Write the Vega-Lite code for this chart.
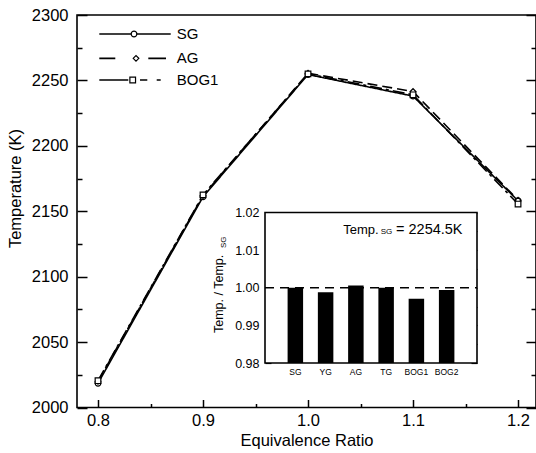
{
  "$schema": "https://vega.github.io/schema/vega-lite/v6.json",
  "width": 459,
  "height": 392.5,
  "autosize": {"type": "none"},
  "padding": {"left": 77, "top": 15, "right": 0, "bottom": 45.5},
  "background": "white",
  "config": {
    "view": {"stroke": "black", "strokeWidth": 1.6},
    "font": "Liberation Sans",
    "axis": {"labelFont": "Liberation Sans", "titleFont": "Liberation Sans", "labelColor": "black", "titleColor": "black", "tickColor": "black", "domainColor": "black", "grid": false, "titleFontWeight": "normal", "zindex": 1},
    "text": {"font": "Liberation Sans", "color": "black"}
  },
  "layer": [
    {
      "data": {"values": [
        {"phi": 0.8, "T": 2018.5, "fuel": "SG"},
        {"phi": 0.9, "T": 2161, "fuel": "SG"},
        {"phi": 1.0, "T": 2254.5, "fuel": "SG"},
        {"phi": 1.1, "T": 2238, "fuel": "SG"},
        {"phi": 1.2, "T": 2158, "fuel": "SG"},
        {"phi": 0.8, "T": 2020, "fuel": "AG"},
        {"phi": 0.9, "T": 2162, "fuel": "AG"},
        {"phi": 1.0, "T": 2255.5, "fuel": "AG"},
        {"phi": 1.1, "T": 2241.5, "fuel": "AG"},
        {"phi": 1.2, "T": 2158.5, "fuel": "AG"},
        {"phi": 0.8, "T": 2020.5, "fuel": "BOG1"},
        {"phi": 0.9, "T": 2162.5, "fuel": "BOG1"},
        {"phi": 1.0, "T": 2255, "fuel": "BOG1"},
        {"phi": 1.1, "T": 2239, "fuel": "BOG1"},
        {"phi": 1.2, "T": 2155.5, "fuel": "BOG1"}
      ]},
      "layer": [
        {
          "mark": {"type": "line", "color": "black", "strokeWidth": 1.6},
          "encoding": {
            "x": {"field": "phi", "type": "quantitative", "scale": {"domain": [0.78, 1.2171], "nice": false, "zero": false},
              "axis": {
                "orient": "bottom",
                "values": [0.8, 0.9, 1.0, 1.1, 1.2],
                "format": ".1f",
                "tickSize": -8,
                "tickWidth": 1.5,
                "domain": false,
                "labelFontSize": 16.5,
                "labelPadding": 13,
                "labelFlush": false,
                "labelOverlap": false,
                "title": "Equivalence Ratio",
                "titleFontSize": 16.5,
                "titlePadding": 3
              }},
            "y": {"field": "T", "type": "quantitative", "scale": {"domain": [2000, 2300], "nice": false, "zero": false},
              "axis": {
                "orient": "left",
                "values": [2000, 2050, 2100, 2150, 2200, 2250, 2300],
                "format": "d",
                "tickSize": -10,
                "tickWidth": 1.5,
                "domain": false,
                "labelFontSize": 16.5,
                "labelPadding": 19,
                "labelOverlap": false,
                "title": "Temperature (K)",
                "titleFontSize": 16.5,
                "titleX": -61.5,
                "titleY": 173,
                "titleBaseline": "middle"
              }},
            "strokeDash": {"field": "fuel", "type": "nominal", "scale": {"domain": ["SG", "AG", "BOG1"], "range": [[1, 0], [10, 5], [12, 4, 3, 4]]}, "legend": null}
          }
        },
        {
          "mark": {"type": "point", "fill": "white", "stroke": "black", "strokeWidth": 1.2, "opacity": 1, "size": 32},
          "encoding": {
            "x": {"field": "phi", "type": "quantitative",
              "axis": {"orient": "bottom", "values": [0.85, 0.95, 1.05, 1.15], "labels": false, "tickSize": -4, "tickWidth": 1.5, "domain": false, "title": null}},
            "y": {"field": "T", "type": "quantitative",
              "axis": {"orient": "right", "values": [2000, 2050, 2100, 2150, 2200, 2250, 2300], "labels": false, "tickSize": -10, "tickWidth": 1.5, "domain": false, "title": null}},
            "shape": {"field": "fuel", "type": "nominal", "scale": {"domain": ["SG", "AG", "BOG1"], "range": ["circle", "diamond", "square"]}, "legend": null}
          }
        },
        {
          "data": {"values": [{}]},
          "mark": {"type": "rule", "color": "black", "strokeWidth": 1.5},
          "encoding": {
            "x": {"datum": 0.80124, "axis": null},
            "x2": {"datum": 0.86924},
            "y": {"datum": 2285.5,
              "axis": {"orient": "left", "values": [2025, 2075, 2125, 2175, 2225, 2275], "labels": false, "tickSize": -5, "tickWidth": 1.5, "domain": false, "title": null}}
          }
        },
        {
          "data": {"values": [{}]},
          "mark": {"type": "rule", "color": "black", "strokeWidth": 1.8, "strokeDash": [16, 33, 18, 10]},
          "encoding": {
            "x": {"datum": 0.80124, "axis": null},
            "x2": {"datum": 0.86476},
            "y": {"datum": 2266.9,
              "axis": {"orient": "right", "values": [2025, 2075, 2125, 2175, 2225, 2275], "labels": false, "tickSize": -5, "tickWidth": 1.5, "domain": false, "title": null}}
          }
        },
        {
          "data": {"values": [{}]},
          "mark": {"type": "rule", "color": "black", "strokeWidth": 1.5, "strokeDash": [29, 11.7, 7.3, 9.4, 4, 20]},
          "encoding": {
            "x": {"datum": 0.80124, "axis": null},
            "x2": {"datum": 0.86048},
            "y": {"datum": 2250.3, "axis": null}
          }
        },
        {
          "data": {"values": [{}]},
          "mark": {"type": "point", "shape": "circle", "fill": "white", "stroke": "black", "strokeWidth": 1.2, "opacity": 1, "size": 32},
          "encoding": {"x": {"datum": 0.83429, "axis": null}, "y": {"datum": 2285.5, "axis": null}}
        },
        {
          "data": {"values": [{}]},
          "mark": {"type": "point", "shape": "diamond", "fill": "white", "stroke": "black", "strokeWidth": 1.2, "opacity": 1, "size": 32},
          "encoding": {"x": {"datum": 0.83619, "axis": null}, "y": {"datum": 2266.9, "axis": null}}
        },
        {
          "data": {"values": [{}]},
          "mark": {"type": "point", "shape": "square", "fill": "white", "stroke": "black", "strokeWidth": 1.2, "opacity": 1, "size": 32},
          "encoding": {"x": {"datum": 0.83305, "axis": null}, "y": {"datum": 2250.3, "axis": null}}
        },
        {
          "data": {"values": [{}]},
          "mark": {"type": "text", "align": "left", "baseline": "middle", "fontSize": 15},
          "encoding": {"x": {"datum": 0.87495, "axis": null}, "y": {"datum": 2285.5, "axis": null}, "text": {"value": "SG"}}
        },
        {
          "data": {"values": [{}]},
          "mark": {"type": "text", "align": "left", "baseline": "middle", "fontSize": 15},
          "encoding": {"x": {"datum": 0.87495, "axis": null}, "y": {"datum": 2266.9, "axis": null}, "text": {"value": "AG"}}
        },
        {
          "data": {"values": [{}]},
          "mark": {"type": "text", "align": "left", "baseline": "middle", "fontSize": 15},
          "encoding": {"x": {"datum": 0.87495, "axis": null}, "y": {"datum": 2250.3, "axis": null}, "text": {"value": "BOG1"}}
        }
      ],
      "resolve": {"axis": {"x": "independent", "y": "independent"}}
    },
    {
      "layer": [
        {
          "data": {"values": [{}]},
          "mark": {"type": "rect", "fill": "white", "stroke": "black", "strokeWidth": 1.6},
          "encoding": {
            "x": {"datum": 0, "scale": {"domain": [0, 1], "range": [188, 400], "nice": false}, "axis": null},
            "x2": {"datum": 1},
            "y": {"datum": 0.98, "scale": {"domain": [0.98, 1.02], "range": [348, 197.5], "nice": false, "zero": false},
              "axis": {
                "orient": "right",
                "offset": -59,
                "values": [0.98, 0.985, 0.99, 0.995, 1.0, 1.005, 1.01, 1.015, 1.02],
                "labels": false,
                "tickSize": -6,
                "tickWidth": 1.2,
                "domain": false,
                "title": null
              }},
            "y2": {"datum": 1.02}
          }
        },
        {
          "data": {"values": [
            {"fuel": "SG", "ratio": 1.0},
            {"fuel": "YG", "ratio": 0.9988},
            {"fuel": "AG", "ratio": 1.0006},
            {"fuel": "TG", "ratio": 1.0},
            {"fuel": "BOG1", "ratio": 0.9971},
            {"fuel": "BOG2", "ratio": 0.9994}
          ]},
          "mark": {"type": "bar", "color": "black"},
          "encoding": {
            "x": {"field": "fuel", "type": "nominal", "sort": null,
              "scale": {"range": [188, 400], "paddingInner": 0.488, "paddingOuter": 0.747},
              "axis": {"orient": "bottom", "offset": -44.5, "ticks": false, "domain": false, "labelAngle": 0, "labelFontSize": 8.5, "labelPadding": 4, "title": null}},
            "y": {"field": "ratio", "type": "quantitative",
              "scale": {"domain": [0.98, 1.02], "range": [348, 197.5], "nice": false, "zero": false},
              "axis": {
                "orient": "left",
                "offset": -188,
                "values": [0.98, 0.985, 0.99, 0.995, 1.0, 1.005, 1.01, 1.015, 1.02],
                "format": ".2f",
                "labelExpr": "round(datum.value*1000) % 10 == 0 ? datum.label : ''",
                "tickSize": -6,
                "tickWidth": 1.2,
                "domain": false,
                "labelFontSize": 12.5,
                "labelPadding": 12,
                "labelOverlap": false,
                "title": null
              }},
            "y2": {"datum": 0.98}
          }
        },
        {
          "data": {"values": [{}]},
          "layer": [
            {
              "mark": {"type": "rule", "color": "black", "strokeWidth": 1.6, "strokeDash": [9, 6]},
              "encoding": {
                "x": {"datum": 0, "axis": null},
                "x2": {"datum": 1},
                "y": {"datum": 1.0, "axis": null}
              }
            },
            {
              "mark": {"type": "text", "align": "left", "baseline": "alphabetic", "fontSize": 13},
              "encoding": {"x": {"datum": 0.3693, "axis": null}, "y": {"datum": 1.01429, "axis": null}, "text": {"value": "Temp."}}
            },
            {
              "mark": {"type": "text", "align": "left", "baseline": "alphabetic", "fontSize": 8},
              "encoding": {"x": {"datum": 0.546, "axis": null}, "y": {"datum": 1.01429, "axis": null}, "text": {"value": "SG"}}
            },
            {
              "mark": {"type": "text", "align": "left", "baseline": "alphabetic", "fontSize": 14.5},
              "encoding": {"x": {"datum": 0.618, "axis": null}, "y": {"datum": 1.01429, "axis": null}, "text": {"value": "= 2254.5K"}}
            },
            {
              "mark": {"type": "text", "align": "left", "baseline": "alphabetic", "fontSize": 12.5, "angle": 270},
              "encoding": {"x": {"datum": -0.198, "axis": null}, "y": {"datum": 0.98797, "axis": null}, "text": {"value": "Temp. / Temp."}}
            },
            {
              "mark": {"type": "text", "align": "left", "baseline": "alphabetic", "fontSize": 8, "angle": 270},
              "encoding": {"x": {"datum": -0.184, "axis": null}, "y": {"datum": 1.01057, "axis": null}, "text": {"value": "SG"}}
            }
          ],
          "encoding": {
            "x": {"datum": 0, "scale": {"domain": [0, 1], "range": [188, 400], "nice": false}}
          }
        }
      ],
      "resolve": {"scale": {"x": "independent"}, "axis": {"y": "independent"}}
    }
  ],
  "resolve": {"scale": {"x": "independent", "y": "independent"}}
}
